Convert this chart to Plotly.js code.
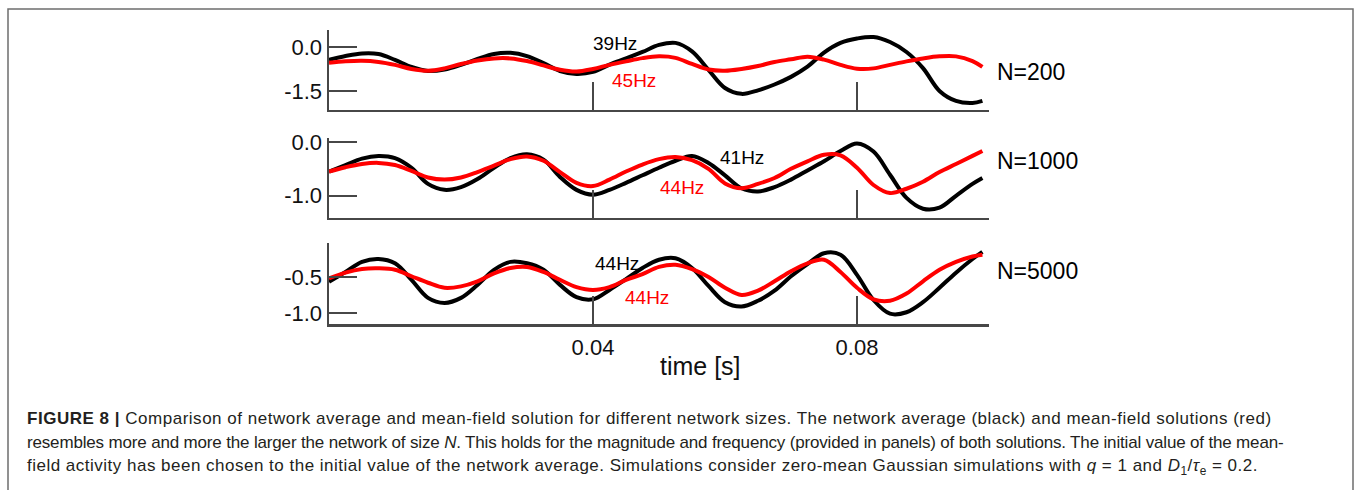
<!DOCTYPE html>
<html>
<head>
<meta charset="utf-8">
<script src="https://cdn.plot.ly/plotly-3.0.1.min.js"></script>
<style>
  html, body { margin: 0; padding: 0; background: #fff; overflow: hidden; }
  #fig { width: 1356px; height: 490px; }
</style>
</head>
<body>
<div id="fig"></div>
<script>
// Sample times (s)
const time = [0, 0.0025, 0.005, 0.0075, 0.01, 0.0125, 0.015, 0.0175, 0.02, 0.0225,
  0.025, 0.0275, 0.03, 0.0325, 0.035, 0.0375, 0.04, 0.0425, 0.045, 0.0475,
  0.05, 0.0525, 0.055, 0.0575, 0.06, 0.0625, 0.065, 0.0675, 0.07, 0.0725,
  0.075, 0.0775, 0.08, 0.0825, 0.085, 0.0875, 0.09, 0.0925, 0.095, 0.0975, 0.099];

// Network average (black) and mean-field solution (red), N = 200
const net200 = [-0.44, -0.31, -0.22, -0.24, -0.44, -0.68, -0.82, -0.77, -0.61, -0.41,
  -0.24, -0.20, -0.31, -0.55, -0.82, -0.92, -0.85, -0.60, -0.39, -0.17,
  0.07, 0.14, -0.15, -0.78, -1.40, -1.60, -1.48, -1.28, -1.02, -0.67,
  -0.19, 0.14, 0.29, 0.34, 0.17, -0.17, -0.72, -1.50, -1.84, -1.91, -1.84];
const mf200 = [-0.54, -0.49, -0.47, -0.51, -0.61, -0.75, -0.81, -0.73, -0.58, -0.46,
  -0.39, -0.39, -0.48, -0.63, -0.78, -0.84, -0.75, -0.61, -0.49, -0.38,
  -0.32, -0.37, -0.58, -0.77, -0.81, -0.75, -0.65, -0.51, -0.42, -0.33,
  -0.43, -0.61, -0.74, -0.73, -0.61, -0.49, -0.39, -0.32, -0.32, -0.48, -0.68];

// N = 1000
const net1000 = [-0.55, -0.43, -0.31, -0.26, -0.30, -0.48, -0.78, -0.89, -0.84, -0.69,
  -0.48, -0.30, -0.23, -0.33, -0.65, -0.89, -0.98, -0.89, -0.76, -0.62,
  -0.48, -0.35, -0.26, -0.39, -0.62, -0.86, -0.92, -0.84, -0.70, -0.53,
  -0.36, -0.17, -0.03, -0.18, -0.61, -1.04, -1.24, -1.22, -1.00, -0.78, -0.67];
const mf1000 = [-0.55, -0.47, -0.41, -0.39, -0.43, -0.54, -0.66, -0.70, -0.66, -0.56,
  -0.44, -0.32, -0.27, -0.35, -0.56, -0.76, -0.82, -0.70, -0.55, -0.42,
  -0.32, -0.28, -0.34, -0.50, -0.77, -0.86, -0.78, -0.67, -0.50, -0.36,
  -0.24, -0.25, -0.48, -0.80, -0.95, -0.87, -0.74, -0.56, -0.41, -0.26, -0.17];

// N = 5000
const net5000 = [-0.565, -0.43, -0.29, -0.25, -0.31, -0.54, -0.79, -0.86, -0.79, -0.61,
  -0.40, -0.29, -0.31, -0.40, -0.61, -0.78, -0.81, -0.68, -0.53, -0.375,
  -0.26, -0.24, -0.375, -0.625, -0.85, -0.91, -0.83, -0.69, -0.49, -0.32,
  -0.17, -0.19, -0.47, -0.82, -1.01, -0.99, -0.85, -0.65, -0.44, -0.25, -0.15];
const mf5000 = [-0.52, -0.44, -0.39, -0.38, -0.40, -0.49, -0.58, -0.65, -0.63, -0.56,
  -0.45, -0.375, -0.36, -0.43, -0.54, -0.64, -0.68, -0.64, -0.54, -0.46,
  -0.36, -0.33, -0.39, -0.50, -0.65, -0.75, -0.69, -0.56, -0.42, -0.31,
  -0.26, -0.43, -0.65, -0.81, -0.83, -0.73, -0.56, -0.40, -0.29, -0.215, -0.19];

// Ticks and labels
const timeTicks = [0.04, 0.08];
const timeTickText = ['0.04', '0.08'];
const yTicks200 = [0, -1.5],   yTickText200 = ['0.0', '-1.5'];
const yTicks1000 = [0, -1],    yTickText1000 = ['0.0', '-1.0'];
const yTicks5000 = [-0.5, -1], yTickText5000 = ['-0.5', '-1.0'];
const sizeLabels = ['N=200', 'N=1000', 'N=5000'];
const netFreq = ['39Hz', '41Hz', '44Hz'];
const mfFreq = ['45Hz', '44Hz', '44Hz'];

const captionLines = [
  '<b>FIGURE 8 |</b> Comparison of network average and mean-field solution for different network sizes. The network average (black) and mean-field solutions (red)',
  'resembles more and more the larger the network of size <i>N</i>. This holds for the magnitude and frequency (provided in panels) of both solutions. The initial value of the mean-',
  'field activity has been chosen to the initial value of the network average. Simulations consider zero-mean Gaussian simulations with <i>q</i> = 1 and <i>D</i><sub>1</sub>/<i>τ</i><sub>e</sub> = 0.2.'
];

// ---- geometry (page pixels) ----
const W = 1356, H = 490;
const M = { l: 329, r: 367, t: 30, b: 166 };
const PW = W - M.l - M.r, PH = H - M.t - M.b;
const px = x => (x - M.l) / PW;          // page x -> paper x
const py = y => (H - M.b - y) / PH;       // page y -> paper y

const FONT = '"Liberation Sans", Arial, Helvetica, sans-serif';
const AX = '#474747';

function timeAxis(anchor, withLabels) {
  return {
    anchor: anchor, domain: [0, 1], range: [0, 0.1],
    showline: true, linecolor: AX, linewidth: 2.5,
    ticks: 'inside', ticklen: 28, tickwidth: 2, tickcolor: AX,
    tickmode: 'array', tickvals: timeTicks, ticktext: timeTickText,
    showticklabels: withLabels, ticklabelstandoff: 2,
    tickfont: { family: FONT, size: 22, color: '#111' },
    showgrid: false, zeroline: false, fixedrange: true
  };
}
function valueAxis(anchor, domain, range, vals, text) {
  return {
    anchor: anchor, domain: domain, range: range,
    showline: true, linecolor: AX, linewidth: 2.5,
    ticks: 'inside', ticklen: 28, tickwidth: 2, tickcolor: AX,
    tickmode: 'array', tickvals: vals, ticktext: text,
    ticklabelstandoff: 0,
    tickfont: { family: FONT, size: 22, color: '#111' },
    showgrid: false, zeroline: false, fixedrange: true
  };
}

function line(y, color, xa, ya) {
  return {
    x: time, y: y, xaxis: xa, yaxis: ya, type: 'scatter', mode: 'lines',
    line: { color: color, width: 4, shape: 'spline', smoothing: 1 },
    hoverinfo: 'skip', showlegend: false
  };
}

const traces = [
  line(net200, '#000000', 'x', 'y'),   line(mf200, '#ff0000', 'x', 'y'),
  line(net1000, '#000000', 'x2', 'y2'), line(mf1000, '#ff0000', 'x2', 'y2'),
  line(net5000, '#000000', 'x3', 'y3'), line(mf5000, '#ff0000', 'x3', 'y3')
];

// text helper in page pixels
function label(text, x, y, size, color, xanchor) {
  return {
    text: text, xref: 'paper', yref: 'paper', x: px(x), y: py(y),
    xanchor: xanchor || 'center', yanchor: 'middle', showarrow: false,
    font: { family: FONT, size: size, color: color }
  };
}

// caption letter spacing chosen so each line fills its measured width
const CAP_SIZE = 17;
const capTargets = [1245, 1257, 1237];
const ctx = document.createElement('canvas').getContext('2d');
function measure(html) {
  let w = 0;
  const boldMatch = html.match(/<b>(.*?)<\/b>/);
  let rest = html;
  if (boldMatch) {
    ctx.font = 'bold ' + CAP_SIZE + 'px "Liberation Sans"';
    w += ctx.measureText(boldMatch[1]).width;
    rest = html.replace(boldMatch[0], '');
  }
  ctx.font = CAP_SIZE + 'px "Liberation Sans"';
  const plain = rest.replace(/<[^>]+>/g, '');
  w += ctx.measureText(plain).width;
  const n = html.replace(/<[^>]+>/g, '').length;
  return { w: w, n: n };
}
const captionAnnotations = captionLines.map((t, i) => {
  const m = measure(t);
  const ls = ((capTargets[i] - m.w) / m.n).toFixed(3);
  return {
    text: '<span style="letter-spacing:' + ls + 'px">' + t + '</span>',
    xref: 'paper', yref: 'paper', x: px(25), y: py(418 + 24.5 * i),
    xanchor: 'left', yanchor: 'middle', showarrow: false, align: 'left',
    font: { family: FONT, size: CAP_SIZE, color: '#231f20' }
  };
});

const layout = {
  width: W, height: H,
  margin: M,
  paper_bgcolor: '#ffffff', plot_bgcolor: 'rgba(0,0,0,0)',
  showlegend: false,
  xaxis: timeAxis('y', false),
  xaxis2: timeAxis('y2', false),
  xaxis3: timeAxis('y3', true),
  yaxis: valueAxis('x', [0.728, 1], [-2.15, 0.58], yTicks200, yTickText200),
  yaxis2: valueAxis('x2', [0.361, 0.633], [-1.41, 0.074], yTicks1000, yTickText1000),
  yaxis3: valueAxis('x3', [0, 0.2755], [-1.153, -0.028], yTicks5000, yTickText5000),
  annotations: [
    label(netFreq[0], 615, 43, 19, '#000'),
    label(mfFreq[0], 634, 80, 19, '#ff0000'),
    label(netFreq[1], 742, 157, 19, '#000'),
    label(mfFreq[1], 682, 187, 19, '#ff0000'),
    label(netFreq[2], 617, 263, 19, '#000'),
    label(mfFreq[2], 647, 297, 19, '#ff0000'),
    label(sizeLabels[0], 995, 72, 23, '#000', 'left'),
    label(sizeLabels[1], 995, 161, 23, '#000', 'left'),
    label(sizeLabels[2], 995, 271, 23, '#000', 'left'),
    label('time [s]', 700, 366, 25, '#111')
  ].concat(captionAnnotations),
  shapes: [{
    type: 'rect', xref: 'paper', yref: 'paper',
    x0: px(8), x1: px(1353), y0: py(9), y1: py(530),
    line: { color: '#6e6e6e', width: 1.5 }, fillcolor: 'rgba(0,0,0,0)', layer: 'above'
  }]
};

Plotly.newPlot('fig', traces, layout, { displayModeBar: false, staticPlot: true });
</script>
</body>
</html>
